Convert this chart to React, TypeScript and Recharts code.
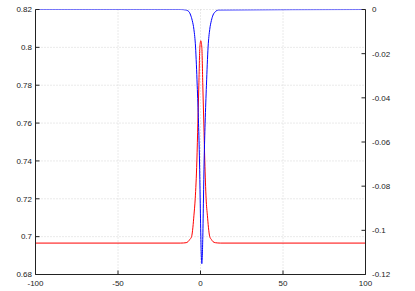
import React from "react";
import { LineChart, Line, XAxis, YAxis, CartesianGrid } from "recharts";

// x positions and values
const redX = [-100, -12, -8.7, -7.5, -6.5, -5.4, -4.6, -4, -3.2, -2.2, -1.6, -1, -0.4, 0.2, 0.8, 1.4, 2, 2.6, 3.4, 4.2, 4.8, 5.6, 6.6, 7.5, 9, 12, 100];
const redY = [0.6966, 0.6966, 0.6968, 0.6974, 0.6985, 0.7, 0.705, 0.711, 0.72, 0.74, 0.76, 0.78, 0.8, 0.8035, 0.8, 0.78, 0.76, 0.74, 0.72, 0.711, 0.705, 0.7, 0.6985, 0.6974, 0.6968, 0.6966, 0.6966];

const blueX = [-100, -12, -9, -7, -6, -5, -4, -3, -2, -1.2, -0.6, -0.2, 0.2, 0.8, 1.4, 1.8, 2.2, 2.8, 3.6, 4.6, 5.6, 6.6, 7.6, 9, 11, 100];
const blueY = [0, 0, -0.0002, -0.001, -0.0025, -0.005, -0.009, -0.017, -0.0343, -0.0515, -0.0686, -0.0858, -0.1029, -0.1151, -0.1029, -0.0858, -0.0686, -0.0515, -0.0343, -0.017, -0.009, -0.005, -0.0025, -0.001, -0.0002, 0];

const xTicks = [-100, -50, 0, 50, 100];
const leftTicks = [0.68, 0.7, 0.72, 0.74, 0.76, 0.78, 0.8, 0.82];
const rightTicks = [-0.12, -0.1, -0.08, -0.06, -0.04, -0.02, 0];

const redData = redX.map((x, i) => ({ x, v: redY[i] }));
const blueData = blueX.map((x, i) => ({ x, v: blueY[i] }));

const tickStyle = { fontSize: 8, fill: "#222", fontFamily: "Liberation Sans, Arial, sans-serif" };
const axisLineStyle = { stroke: "#222", strokeWidth: 1 };

export default function App() {
  return (
    <div style={{ position: "absolute", left: 0, top: 0, background: "#fff" }}>
      <LineChart width={415} height={291} margin={{ top: 9.5, right: 0, bottom: 0, left: 0 }}>
        <CartesianGrid xAxisId="bottom" yAxisId="left" stroke="#d4d4d4" strokeDasharray="1 2" />
        <XAxis
          xAxisId="bottom"
          type="number"
          dataKey="x"
          domain={[-100, 100]}
          ticks={xTicks}
          height={16.5}
          tickSize={-4}
          tickMargin={9.5}
          tick={tickStyle}
          axisLine={axisLineStyle}
          tickLine={{ stroke: "#222" }}
          allowDataOverflow
        />
        <XAxis
          xAxisId="top"
          orientation="top"
          type="number"
          dataKey="x"
          domain={[-100, 100]}
          ticks={xTicks}
          height={0}
          tickSize={-4}
          tick={false}
          axisLine={axisLineStyle}
          tickLine={{ stroke: "#222" }}
        />
        <YAxis
          yAxisId="left"
          type="number"
          domain={[0.68, 0.82]}
          ticks={leftTicks}
          width={35.5}
          tickSize={-4}
          tickMargin={7.5}
          tick={tickStyle}
          axisLine={axisLineStyle}
          tickLine={{ stroke: "#222" }}
          allowDataOverflow
        />
        <YAxis
          yAxisId="leftMirror"
          orientation="right"
          type="number"
          domain={[0.68, 0.82]}
          ticks={leftTicks}
          width={0}
          tickSize={-4}
          tick={false}
          axisLine={false}
          tickLine={{ stroke: "#222" }}
        />
        <YAxis
          yAxisId="right"
          orientation="right"
          type="number"
          domain={[-0.12, 0]}
          ticks={rightTicks}
          width={49.5}
          tickSize={-4}
          tickMargin={10.5}
          tick={tickStyle}
          axisLine={axisLineStyle}
          tickLine={{ stroke: "#222" }}
          allowDataOverflow
        />
        <Line
          data={redData}
          xAxisId="bottom"
          yAxisId="left"
          dataKey="v"
          type="monotone"
          stroke="#ff0000"
          strokeWidth={1}
          dot={false}
          isAnimationActive={false}
        />
        <Line
          data={blueData}
          xAxisId="bottom"
          yAxisId="right"
          dataKey="v"
          type="monotone"
          stroke="#0000ff"
          strokeWidth={1}
          dot={false}
          isAnimationActive={false}
        />
      </LineChart>
    </div>
  );
}
